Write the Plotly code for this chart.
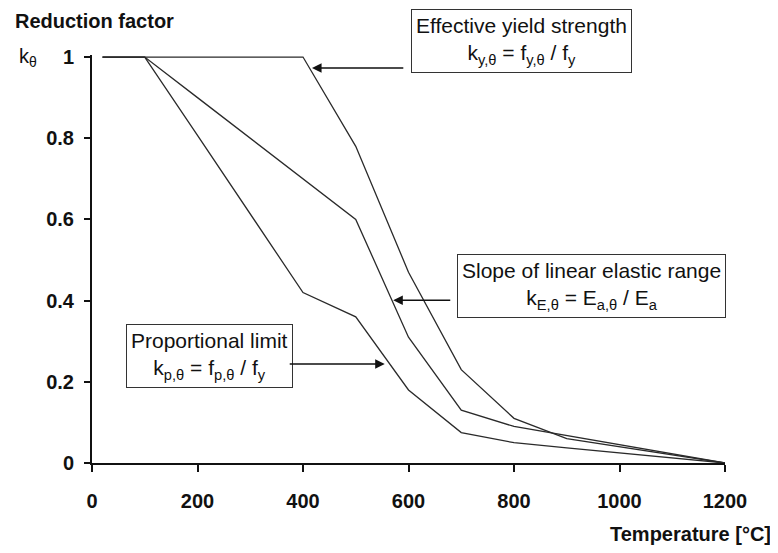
import plotly.graph_objects as go

temps = [20, 100, 200, 300, 400, 500, 600, 700, 800, 900, 1000, 1100, 1200]
k_y = [1.0, 1.0, 1.0, 1.0, 1.0, 0.78, 0.47, 0.23, 0.11, 0.06, 0.04, 0.02, 0.0]
k_p = [1.0, 1.0, 0.807, 0.613, 0.42, 0.36, 0.18, 0.075, 0.05, 0.0375, 0.025, 0.0125, 0.0]
k_E = [1.0, 1.0, 0.9, 0.8, 0.7, 0.6, 0.31, 0.13, 0.09, 0.0675, 0.045, 0.0225, 0.0]

x_ticks = [0, 200, 400, 600, 800, 1000, 1200]
y_ticks = [0, 0.2, 0.4, 0.6, 0.8, 1]
y_tick_labels = ["0", "0.2", "0.4", "0.6", "0.8", "1"]

FONT = "Arial, Liberation Sans, sans-serif"
LINE = "#2a2a2a"

fig = go.Figure()
for name, ys in [("k_y", k_y), ("k_E", k_E), ("k_p", k_p)]:
    fig.add_trace(go.Scatter(x=temps, y=ys, mode="lines", name=name,
                             line=dict(color=LINE, width=1.3), showlegend=False,
                             hoverinfo="skip"))

fig.update_layout(
    width=770, height=545,
    margin=dict(l=84, r=53, t=47, b=90, autoexpand=False),
    paper_bgcolor="white", plot_bgcolor="white",
    font=dict(family=FONT, color="#111"),
    xaxis=dict(range=[0, 1200], tickvals=x_ticks, ticks="outside", ticklen=7,
               tickwidth=2, tickcolor="#111", showline=True, linewidth=2,
               linecolor="#111", showgrid=False, zeroline=False,
               tickfont=dict(size=20, weight="bold", family=FONT),
               ticklabelstandoff=12),
    yaxis=dict(range=[0, 1.005], tickvals=y_ticks, ticktext=y_tick_labels,
               ticks="outside", ticklen=6, tickwidth=2, tickcolor="#111",
               showline=True, linewidth=2, linecolor="#111", showgrid=False,
               zeroline=False, tickfont=dict(size=20, weight="bold", family=FONT),
               ticklabelstandoff=6),
)

ann = []
ann.append(dict(text="Reduction factor", xref="paper", yref="paper", x=-0.125, y=1.083,
                xanchor="left", yanchor="middle", showarrow=False,
                font=dict(size=20, weight="bold", family=FONT, color="#111")))
ann.append(dict(text="k<sub>θ</sub>", xref="paper", yref="paper", x=-0.118, y=0.993,
                xanchor="left", yanchor="middle", showarrow=False,
                font=dict(size=20, family=FONT, color="#111")))
ann.append(dict(text="Temperature [°C]", xref="paper", yref="paper", x=1.076, y=-0.174,
                xanchor="right", yanchor="middle", showarrow=False,
                font=dict(size=20, weight="bold", family=FONT, color="#111")))

box_style = dict(showarrow=False, bordercolor="#333", borderwidth=1, borderpad=4,
                 bgcolor="white", font=dict(size=21, family=FONT, color="#111"),
                 xanchor="center", yanchor="middle", align="center")
ann.append(dict(text="Effective yield strength<br>k<sub>y,θ</sub> = f<sub>y,θ</sub> / f<sub>y</sub>",
                x=814, y=1.034, yref="paper", **box_style))
ann.append(dict(text="Slope of linear elastic range<br>k<sub>E,θ</sub> = E<sub>a,θ</sub> / E<sub>a</sub>",
                x=946, y=0.436, **box_style))
ann.append(dict(text="Proportional limit<br>k<sub>p,θ</sub> = f<sub>p,θ</sub> / f<sub>y</sub>",
                x=222, y=0.263, **box_style))

arrow_style = dict(text="", showarrow=True, axref="x", ayref="y", arrowhead=2,
                   arrowsize=1.2, arrowwidth=1.6, arrowcolor="#111", standoff=0,
                   startstandoff=0)
ann.append(dict(x=417, y=0.973, ax=593, ay=0.973, **arrow_style))
ann.append(dict(x=571, y=0.401, ax=682, ay=0.401, **arrow_style))
ann.append(dict(x=555, y=0.244, ax=372, ay=0.244, **arrow_style))

fig.update_layout(annotations=ann)
fig.write_html("out.html")
